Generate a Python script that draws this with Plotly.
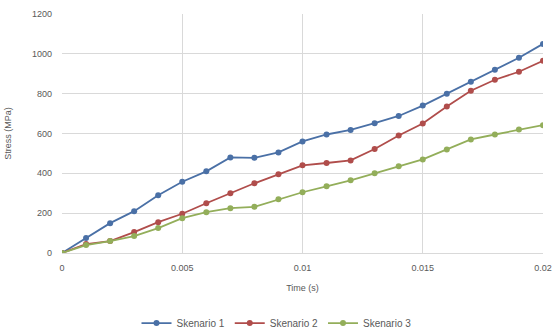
import plotly.graph_objects as go

time_s = [0.000, 0.001, 0.002, 0.003, 0.004, 0.005, 0.006, 0.007, 0.008, 0.009, 0.010,
          0.011, 0.012, 0.013, 0.014, 0.015, 0.016, 0.017, 0.018, 0.019, 0.020]

skenario_1 = [0, 75, 150, 210, 290, 358, 410, 480, 478, 505, 560,
              595, 618, 652, 688, 740, 800, 860, 920, 980, 1050]
skenario_2 = [0, 45, 60, 105, 155, 197, 250, 300, 350, 395, 440,
              452, 465, 522, 590, 650, 735, 815, 870, 910, 965]
skenario_3 = [0, 40, 60, 85, 125, 175, 205, 225, 232, 270, 305,
              335, 365, 400, 435, 470, 520, 570, 595, 620, 642]

series = [
    ("Skenario 1", skenario_1, "#4A70A6"),
    ("Skenario 2", skenario_2, "#B04D4B"),
    ("Skenario 3", skenario_3, "#93AE5A"),
]

fig = go.Figure()
for name, vals, color in series:
    fig.add_trace(go.Scatter(
        x=time_s, y=vals, name=name, mode="lines+markers",
        line=dict(color=color, width=1.8),
        marker=dict(symbol="circle", size=6, color=color),
    ))

font_fam = "Liberation Sans, Arial, sans-serif"
grey = "#595959"
fig.update_layout(
    width=553, height=335,
    margin=dict(l=62, r=10, t=14, b=82, autoexpand=False),
    paper_bgcolor="white", plot_bgcolor="white",
    font=dict(family=font_fam, size=9, color=grey),
    showlegend=True,
    legend=dict(orientation="h", xref="container", x=0.5, xanchor="center",
                y=-0.293, yanchor="middle",
                font=dict(size=10, color=grey), itemwidth=30),
)
fig.update_xaxes(
    range=[0, 0.02], tickvals=[0, 0.005, 0.01, 0.015, 0.02],
    ticktext=["0", "0.005", "0.01", "0.015", "0.02"],
    showgrid=True, gridcolor="#D9D9D9", gridwidth=1,
    zeroline=False, showline=False, automargin=False,
    title=dict(text="Time (s)", font=dict(size=9, color=grey), standoff=12),
    ticks="", ticklabelstandoff=8, tickfont=dict(size=9, color=grey),
)
fig.update_yaxes(
    range=[0, 1200], tickvals=[0, 200, 400, 600, 800, 1000, 1200],
    showgrid=True, gridcolor="#D9D9D9", gridwidth=1,
    zeroline=True, zerolinecolor="#D9D9D9", zerolinewidth=1, showline=False,
    automargin=False,
    title=dict(text="Stress (MPa)", font=dict(size=9, color=grey), standoff=18),
    ticks="", ticklabelstandoff=9, tickfont=dict(size=9, color=grey),
)

fig.write_html("out.html")
